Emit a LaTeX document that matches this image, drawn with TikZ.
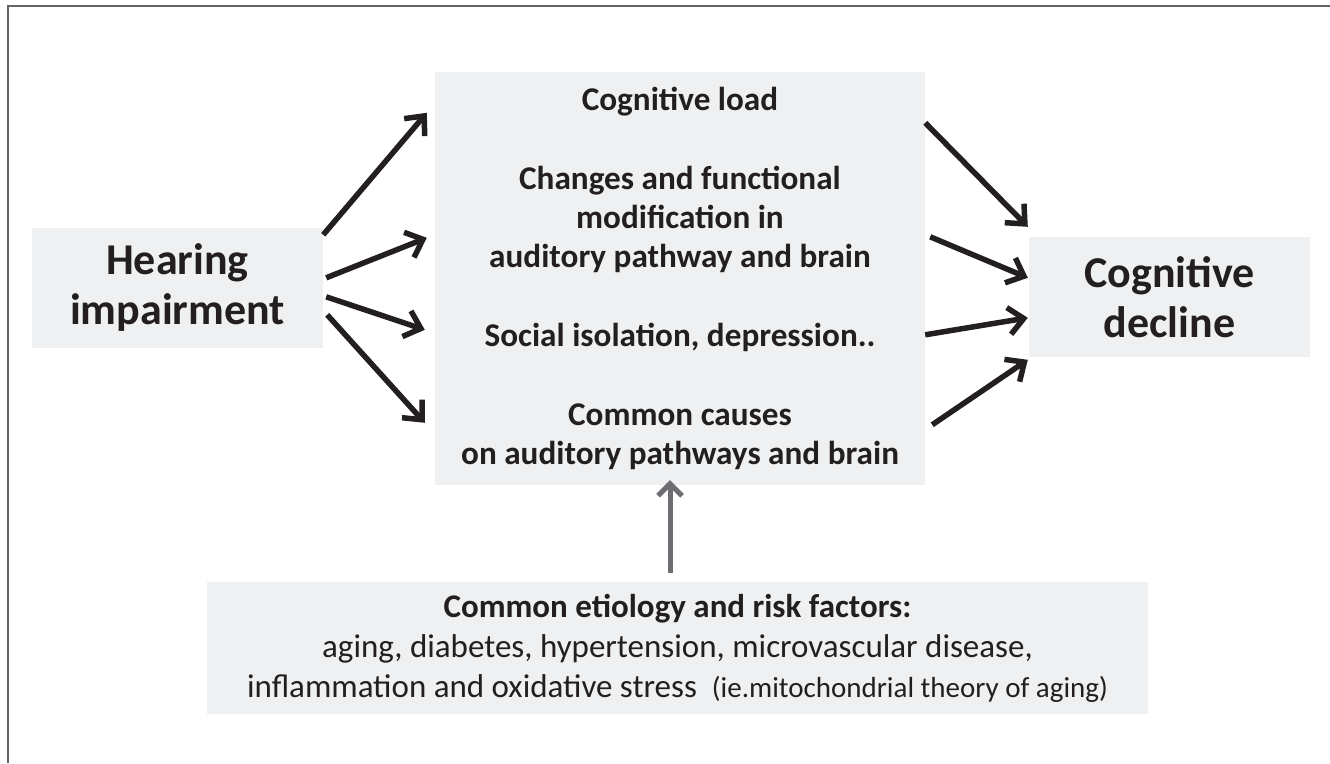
\documentclass[tikz,border=0pt]{standalone}
\usepackage{fontspec}
\setmainfont{Carlito}
\usetikzlibrary{arrows.meta,calc}
\definecolor{boxfill}{RGB}{239,240,241}
\definecolor{ink}{RGB}{35,31,32}
\definecolor{arrowgray}{RGB}{109,110,113}
\definecolor{framegray}{RGB}{100,100,100}
\begin{document}
\begin{tikzpicture}[x=1pt,y=-1pt,
  box/.style={fill=boxfill,inner sep=0pt,align=center,text=ink},
  bigtext/.style={font=\bfseries\fontsize{44}{50}\selectfont},
  arr/.style={draw=ink,line width=5.5pt,-{Straight Barb[length=15pt,width=27pt]}},
  grayarr/.style={draw=arrowgray,line width=5pt,-{Straight Barb[length=12pt,width=24pt]}},
  frameline/.style={draw=framegray,line width=1.5pt}]
\useasboundingbox (0,0) rectangle (1330,763);
\draw[frameline] (8,763) -- (8,6) -- (1330,6);

\node[box,bigtext,minimum width=291pt,minimum height=120pt] (hear) at (177.5,288) {Hearing\\impairment};
\node[box,font=\bfseries\fontsize{33.2}{39.4}\selectfont,minimum width=490pt,minimum height=413pt] (mid) at (680,278.5)
  {Cognitive load\\[39.4pt]
   Changes and functional\\
   modification in\\
   auditory pathway and brain\\[39.4pt]
   Social isolation, depression..\\[39.4pt]
   Common causes\\
   on auditory pathways and brain};
\node[box,bigtext,minimum width=281pt,minimum height=120pt] (dec) at (1169.5,297) {Cognitive\\decline};
\node[box,font=\fontsize{33}{40}\selectfont,minimum width=941pt,minimum height=132pt] (risk) at (677.5,648)
  {{\bfseries Common etiology and risk factors:}\\
   aging, diabetes, hypertension, microvascular disease,\\
   inflammation and oxidative stress\ \ {\fontsize{29}{40}\selectfont (ie.mitochondrial theory of aging)}};

% left fan
\draw[arr] ($(hear.north east)+(0,7)$) -- ($(mid.north west)+(-8,41)$);
\draw[arr] ($(hear.north east)+(3,50)$) -- ($(mid.north west)+(-8,166)$);
\draw[arr] ($(hear.north east)+(3,69)$) -- ($(mid.north west)+(-10,258)$);
\draw[arr] ($(hear.north east)+(4,87)$) -- ($(mid.north west)+(-10,351)$);
% right fan
\draw[arr] ($(mid.north east)+(0,51)$) -- ($(dec.north west)+(-1,-10)$);
\draw[arr] ($(mid.north east)+(5,165)$) -- ($(dec.north west)+(-1,41)$);
\draw[arr] ($(mid.north east)+(0,263)$) -- ($(dec.north west)+(-1,81)$);
\draw[arr] ($(mid.north east)+(7,353)$) -- ($(dec.north west)+(-1,123)$);
% gray arrow
\draw[grayarr] ($(risk.north)+(-7.5,-9)$) -- ($(mid.south)+(-10,-5)$);
\end{tikzpicture}
\end{document}
